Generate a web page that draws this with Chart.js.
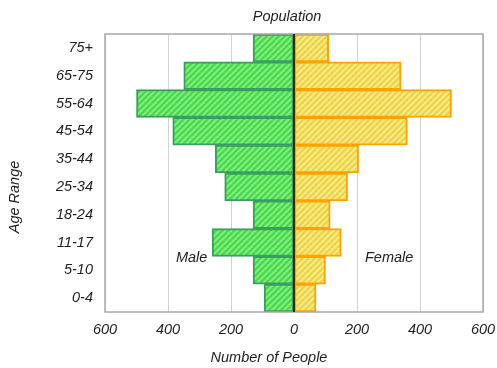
<!DOCTYPE html>
<html>
<head>
<meta charset="utf-8">
<script src="https://cdn.jsdelivr.net/npm/chart.js@4"></script>
<style>
  html, body { margin: 0; padding: 0; background: #fff; }
</style>
</head>
<body>
<canvas id="chart" width="497" height="368"></canvas>
<script>
  "use strict";

  // data, top row first
  const ageRanges = ["75+", "65-75", "55-64", "45-54", "35-44", "25-34", "18-24", "11-17", "5-10", "0-4"];
  const maleCounts = [130, 350, 500, 385, 250, 220, 130, 260, 130, 95];
  const femaleCounts = [110, 340, 500, 360, 205, 170, 115, 150, 100, 70];
  const xTickValues = [-600, -400, -200, 0, 200, 400, 600];

  const FONT = "'Liberation Sans', Arial, sans-serif";
  const TEXT = "#1e1e1e";

  function hatch(base, stripe) {
    const s = 6;
    const c = document.createElement("canvas");
    c.width = s;
    c.height = s;
    const g = c.getContext("2d");
    g.fillStyle = base;
    g.fillRect(0, 0, s, s);
    g.strokeStyle = stripe;
    g.lineWidth = 2;
    g.beginPath();
    g.moveTo(0, s); g.lineTo(s, 0);
    g.moveTo(-s, s); g.lineTo(s, -s);
    g.moveTo(0, 2 * s); g.lineTo(2 * s, 0);
    g.stroke();
    return g.createPattern(c, "repeat");
  }

  const decorations = {
    id: "decorations",
    afterDatasetsDraw(chart) {
      const { ctx, chartArea: a, scales } = chart;
      ctx.save();

      // plot frame
      ctx.strokeStyle = "#a8a8a8";
      ctx.lineWidth = 1.5;
      ctx.strokeRect(a.left, a.top, a.width, a.height);

      // zero line over the bars
      const x0 = scales.x.getPixelForValue(0);
      ctx.strokeStyle = "#000";
      ctx.lineWidth = 1.5;
      ctx.beginPath();
      ctx.moveTo(x0, a.top);
      ctx.lineTo(x0, a.bottom);
      ctx.stroke();

      ctx.fillStyle = TEXT;
      ctx.font = "italic 14.5px " + FONT;
      ctx.textAlign = "center";
      ctx.textBaseline = "middle";

      // Male / Female labels
      const yLab = (scales.y.getPixelForValue(7) + scales.y.getPixelForValue(8)) / 2 + 2;
      ctx.fillText("Male", scales.x.getPixelForValue(-325), yLab);
      ctx.fillText("Female", scales.x.getPixelForValue(302), yLab);

      // titles
      ctx.fillText("Population", 287, 17);
      ctx.fillText("Number of People", 269, 358);

      ctx.translate(15, 197);
      ctx.rotate(-Math.PI / 2);
      ctx.fillText("Age Range", 0, 0);

      ctx.restore();
    },
  };

  const ctx = document.getElementById("chart").getContext("2d");

  new Chart(ctx, {
    type: "bar",
    data: {
      labels: ageRanges,
      datasets: [
        {
          label: "Male",
          data: maleCounts.map((v) => -v),
          backgroundColor: hatch("#42dc42", "#86ea86"),
          borderColor: "#3a9e62",
          borderWidth: 2,
          borderSkipped: false,
          barPercentage: 1,
          categoryPercentage: 1,
        },
        {
          label: "Female",
          data: femaleCounts,
          backgroundColor: hatch("#eed43c", "#f7ea8c"),
          borderColor: "#ffa200",
          borderWidth: 2,
          borderSkipped: false,
          barPercentage: 1,
          categoryPercentage: 1,
        },
      ],
    },
    options: {
      indexAxis: "y",
      responsive: false,
      animation: false,
      layout: { padding: { top: 34, right: 14, left: 0, bottom: 0 } },
      plugins: {
        legend: { display: false },
        tooltip: { enabled: false },
        title: { display: false },
      },
      scales: {
        x: {
          stacked: true,
          min: -600,
          max: 600,
          afterBuildTicks: (s) => {
            s.ticks = xTickValues.map((v) => ({ value: v }));
          },
          afterFit: (s) => {
            s.height = 56;
            s.paddingLeft = 0;
            s.paddingRight = 0;
          },
          grid: { color: "#d2d2d2", lineWidth: 1, drawTicks: false },
          border: { display: false },
          ticks: {
            padding: 9,
            color: TEXT,
            font: { family: FONT, size: 14.5, style: "italic" },
            maxRotation: 0,
            callback: (v) => Math.abs(v),
          },
        },
        y: {
          stacked: true,
          afterFit: (s) => {
            s.width = 105;
            s.paddingTop = 0;
            s.paddingBottom = 0;
          },
          grid: { display: false, drawTicks: false },
          border: { display: false },
          ticks: {
            padding: 12,
            color: TEXT,
            font: { family: FONT, size: 14.5, style: "italic" },
          },
        },
      },
    },
    plugins: [decorations],
  });
</script>
</body>
</html>
